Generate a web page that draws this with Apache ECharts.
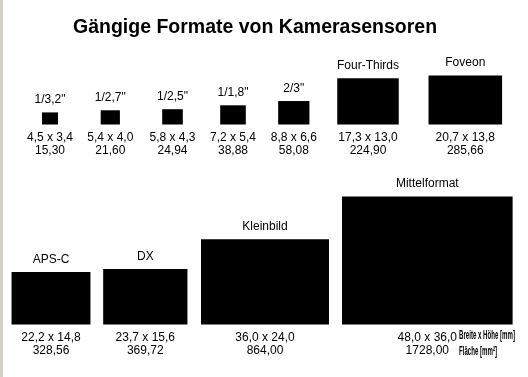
<!DOCTYPE html>
<html>
<head>
<meta charset="utf-8">
<script src="https://cdn.jsdelivr.net/npm/echarts@6/dist/echarts.min.js"></script>
<style>
    html, body { margin: 0; padding: 0; background: #fff; }
    #chart { width: 528px; height: 377px; }
</style>
</head>
<body>
<div id="chart"></div>
<script>
// Sensor data (mm / mm²)
const names = ['1/3,2"', '1/2,7"', '1/2,5"', '1/1,8"', '2/3"', 'Four-Thirds', 'Foveon',
               'APS-C', 'DX', 'Kleinbild', 'Mittelformat'];
const widthsMm = [4.5, 5.4, 5.8, 7.2, 8.8, 17.3, 20.7, 22.2, 23.7, 36.0, 48.0];
const heightsMm = [3.4, 4.0, 4.3, 5.4, 6.6, 13.0, 13.8, 14.8, 15.6, 24.0, 36.0];
const areasMm2 = [15.30, 21.60, 24.94, 38.88, 58.08, 224.90, 285.66, 328.56, 369.72, 864.00, 1728.00];

// Layout: which row each sensor sits in, and the centre of its slot (px)
const rowOf = [0, 0, 0, 0, 0, 0, 0, 1, 1, 1, 1];
const slotCenterPx = [50, 110.3, 172.5, 233, 293.8, 368, 465.3, 51, 145.3, 265, 427.3];

const PX_PER_MM = 3.555;
const baselines = [124.5, 324.5];
const rowMaxMm = [30, 40];

const chart = echarts.init(document.getElementById('chart'));

function fmt(v, d) {
    return v.toFixed(d).replace('.', ',');
}

function rowData(row) {
    const out = [];
    names.forEach((n, i) => {
        if (rowOf[i] === row) {
            out.push([slotCenterPx[i] / PX_PER_MM, widthsMm[i], heightsMm[i], areasMm2[i], i]);
        }
    });
    return out;
}

function renderSensor(params, api) {
    const cx = api.value(0);
    const w = api.value(1);
    const h = api.value(2);
    const idx = api.value(4);
    const tl = api.coord([cx - w / 2, h]);
    const br = api.coord([cx + w / 2, 0]);
    const midX = (tl[0] + br[0]) / 2;
    const font = '12px "Liberation Sans", Arial, sans-serif';
    return {
        type: 'group',
        children: [
            {
                type: 'rect',
                shape: { x: tl[0], y: tl[1], width: br[0] - tl[0], height: br[1] - tl[1] },
                style: { fill: '#000' }
            },
            {
                type: 'text',
                style: { text: names[idx], x: midX, y: tl[1] - 12.5, align: 'center', verticalAlign: 'middle', font: font, fill: '#000' }
            },
            {
                type: 'text',
                style: { text: fmt(widthsMm[idx], 1) + ' x ' + fmt(heightsMm[idx], 1), x: midX, y: br[1] + 13, align: 'center', verticalAlign: 'middle', font: font, fill: '#000' }
            },
            {
                type: 'text',
                style: { text: fmt(areasMm2[idx], 2), x: midX, y: br[1] + 26, align: 'center', verticalAlign: 'middle', font: font, fill: '#000' }
            }
        ]
    };
}

const grids = [0, 1].map(r => ({
    left: 0,
    width: 528,
    top: baselines[r] - rowMaxMm[r] * PX_PER_MM,
    height: rowMaxMm[r] * PX_PER_MM
}));

const option = {
    backgroundColor: '#fff',
    animation: false,
    title: {
        text: 'Gängige Formate von Kamerasensoren',
        left: 68,
        top: 13,
        textStyle: { fontSize: 19.5, fontWeight: 'bold', color: '#000', fontFamily: '"Liberation Sans", Arial, sans-serif' }
    },
    grid: grids,
    xAxis: [0, 1].map(r => ({ type: 'value', gridIndex: r, min: 0, max: 528 / PX_PER_MM, show: false })),
    yAxis: [0, 1].map(r => ({ type: 'value', gridIndex: r, min: 0, max: rowMaxMm[r], show: false })),
    series: [0, 1].map(r => ({
        type: 'custom',
        xAxisIndex: r,
        yAxisIndex: r,
        renderItem: renderSensor,
        data: rowData(r)
    })),
    graphic: [
        {
            type: 'rect',
            left: 0, top: 0,
            shape: { width: 3, height: 377 },
            style: { fill: '#d4d0c8' }
        },
        {
            type: 'text',
            x: 459, y: 329,
            scaleX: 0.47,
            style: { text: 'Breite x Höhe [mm]', font: 'bold 13px "Liberation Sans", Arial, sans-serif', fill: '#000' }
        },
        {
            type: 'text',
            x: 459, y: 345,
            scaleX: 0.47,
            style: { text: 'Fläche [mm²]', font: 'bold 13px "Liberation Sans", Arial, sans-serif', fill: '#000' }
        }
    ]
};

chart.setOption(option);
</script>
</body>
</html>
